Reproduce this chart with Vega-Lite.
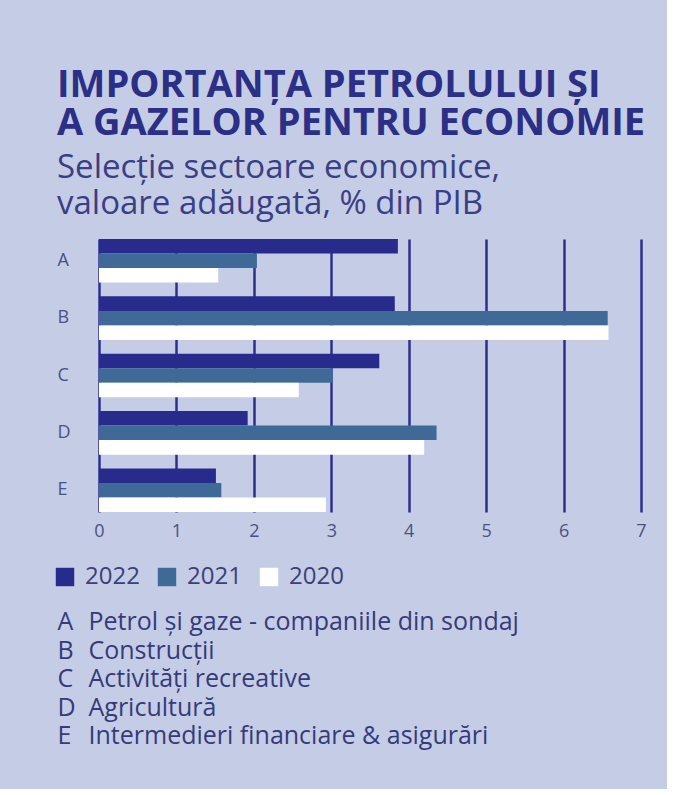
{
  "$schema": "https://vega.github.io/schema/vega-lite/v6.json",
  "background": "#c5cde6",
  "padding": {"left": 53, "top": 67, "right": 20, "bottom": 38},
  "config": {"view": {"stroke": null}, "font": "Open Sans"},
  "title": {
    "text": ["IMPORTANȚA PETROLULUI ȘI", "A GAZELOR PENTRU ECONOMIE"],
    "subtitle": ["Selecție sectoare economice,", "valoare adăugată, % din PIB"],
    "anchor": "start",
    "frame": "bounds",
    "dx": 4,
    "font": "Open Sans",
    "fontSize": 38,
    "fontWeight": "bold",
    "color": "#2b2f85",
    "lineHeight": 38,
    "subtitleFont": "Open Sans",
    "subtitleFontSize": 33,
    "subtitleColor": "#3a3f85",
    "subtitleLineHeight": 36,
    "subtitlePadding": 9,
    "offset": 18
  },
  "spacing": 68,
  "vconcat": [
    {
      "width": 542,
      "height": 273,
      "data": {
        "values": [
          {"sector": "A", "year": "2022", "value": 3.86},
          {"sector": "A", "year": "2021", "value": 2.04},
          {"sector": "A", "year": "2020", "value": 1.54},
          {"sector": "B", "year": "2022", "value": 3.82},
          {"sector": "B", "year": "2021", "value": 6.57},
          {"sector": "B", "year": "2020", "value": 6.58},
          {"sector": "C", "year": "2022", "value": 3.62},
          {"sector": "C", "year": "2021", "value": 3.02},
          {"sector": "C", "year": "2020", "value": 2.58},
          {"sector": "D", "year": "2022", "value": 1.92},
          {"sector": "D", "year": "2021", "value": 4.36},
          {"sector": "D", "year": "2020", "value": 4.2},
          {"sector": "E", "year": "2022", "value": 1.51},
          {"sector": "E", "year": "2021", "value": 1.58},
          {"sector": "E", "year": "2020", "value": 2.93}
        ]
      },
      "mark": {"type": "bar", "strokeWidth": 0},
      "encoding": {
        "y": {
          "field": "sector",
          "type": "nominal",
          "scale": {"paddingInner": 0.24, "paddingOuter": 0},
          "axis": {
            "title": null,
            "domain": false,
            "ticks": false,
            "labelAlign": "left",
            "labelPadding": 42,
            "labelFont": "Open Sans",
            "labelFontSize": 18,
            "labelColor": "#4a5282"
          }
        },
        "yOffset": {
          "field": "year",
          "type": "nominal",
          "sort": ["2022", "2021", "2020"],
          "scale": {"paddingInner": 0, "paddingOuter": 0}
        },
        "x": {
          "field": "value",
          "type": "quantitative",
          "scale": {"domain": [0, 7], "nice": false},
          "axis": {
            "title": null,
            "values": [0, 1, 2, 3, 4, 5, 6, 7],
            "grid": true,
            "gridColor": "#2c2f8c",
            "gridWidth": 2.5,
            "gridOpacity": 1,
            "domain": false,
            "ticks": false,
            "labelFont": "Open Sans",
            "labelFontSize": 18,
            "labelColor": "#4a5282",
            "labelPadding": 10,
            "labelFlush": false
          }
        },
        "color": {
          "field": "year",
          "type": "nominal",
          "scale": {"domain": ["2022", "2021", "2020"], "range": ["#282a8c", "#3f6a98", "#ffffff"]},
          "legend": {
            "title": null,
            "orient": "none",
            "legendX": -46,
            "legendY": 326,
            "direction": "horizontal",
            "symbolType": "square",
            "symbolSize": 340,
            "symbolStrokeWidth": 0,
            "symbolOpacity": 1,
            "labelFont": "Open Sans",
            "labelFontSize": 24,
            "labelColor": "#3b4078",
            "labelOffset": 8,
            "columnPadding": 15,
            "padding": 0
          }
        }
      }
    },
    {
      "width": 1,
      "height": 142.5,
      "data": {
        "values": [
          {"letter": "A", "name": "Petrol și gaze - companiile din sondaj"},
          {"letter": "B", "name": "Construcții"},
          {"letter": "C", "name": "Activități recreative"},
          {"letter": "D", "name": "Agricultură"},
          {"letter": "E", "name": "Intermedieri financiare & asigurări"}
        ]
      },
      "encoding": {
        "y": {"field": "letter", "type": "nominal", "axis": null, "scale": {"type": "point", "padding": 0.5}}
      },
      "layer": [
        {
          "mark": {"type": "text", "align": "left", "baseline": "middle", "font": "Open Sans", "fontSize": 25, "color": "#353b7a", "dx": -42},
          "encoding": {"text": {"field": "letter"}}
        },
        {
          "mark": {"type": "text", "align": "left", "baseline": "middle", "font": "Open Sans", "fontSize": 25, "color": "#353b7a", "dx": -11},
          "encoding": {"text": {"field": "name"}}
        }
      ]
    }
  ]
}
